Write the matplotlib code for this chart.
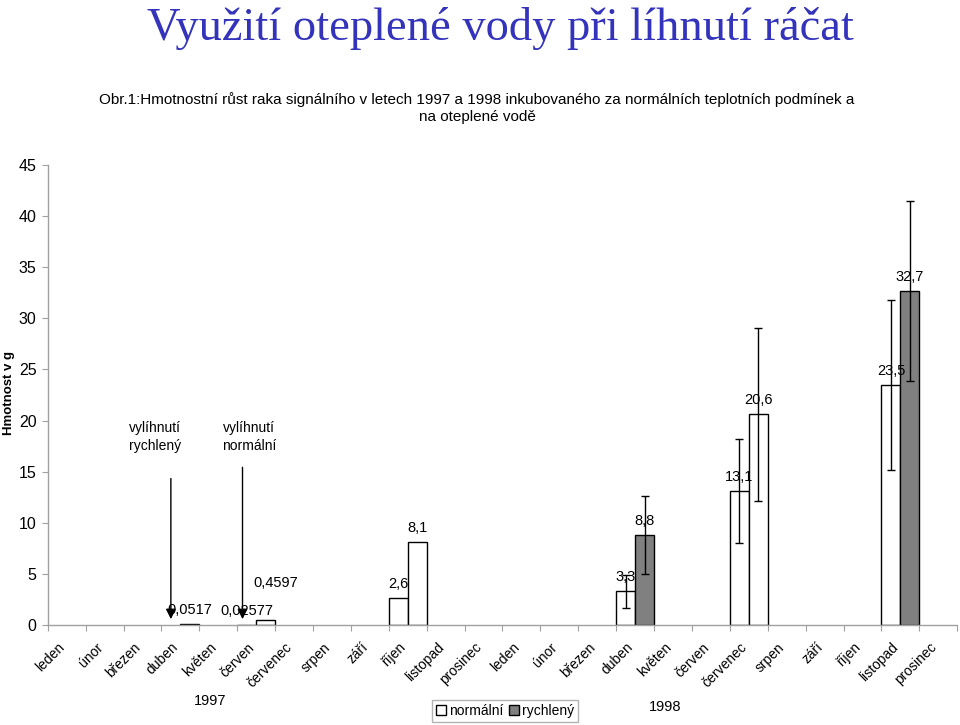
import matplotlib
matplotlib.use("Agg")
import matplotlib.pyplot as plt
import matplotlib.transforms as mtransforms
from matplotlib.patches import Patch
import numpy as np

months = ["leden", "únor", "březen", "duben", "květen", "červen", "červenec",
          "srpen", "září", "říjen", "listopad", "prosinec"]
categories = months + months
years = ["1997", "1998"]

# values per category (None = no bar)
normalni = [None, None, None, None, None, 0.02577, None, None, None, 2.6, None, None,
            None, None, None, 3.3, None, None, 13.1, None, None, None, 23.5, None]
rychleny = [None, None, None, 0.0517, None, 0.4597, None, None, None, 8.1, None, None,
            None, None, None, 8.8, None, None, 20.6, None, None, None, 32.7, None]
err_normalni = [None] * 15 + [1.6, None, None, 5.1, None, None, None, 8.3, None]
err_rychleny = [None] * 15 + [3.8, None, None, 8.5, None, None, None, 8.8, None]
label_normalni = [None, None, None, None, None, "0,02577", None, None, None, "2,6", None, None,
                  None, None, None, "3,3", None, None, "13,1", None, None, None, "23,5", None]
label_rychleny = [None, None, None, "0,0517", None, "0,4597", None, None, None, "8,1", None, None,
                  None, None, None, "8,8", None, None, "20,6", None, None, None, "32,7", None]

# fill colours of the right-hand bars (style)
GRAY = "#808080"
right_fill = ["white"] * 24
for i in (3, 15, 22):
    right_fill[i] = GRAY

plt.rcParams["font.family"] = ["Liberation Sans", "DejaVu Sans"]

fig = plt.figure(figsize=(9.6, 7.25), dpi=100)
ax = fig.add_axes([47.7 / 960, 1 - 625 / 725, (957.3 - 47.7) / 960, (625 - 165) / 725])

x = np.arange(len(categories))
w = 0.5
for i in range(len(categories)):
    if normalni[i] is not None:
        ax.bar(x[i] - w / 2, normalni[i], width=w, color="white", edgecolor="black", linewidth=1.0, zorder=2)
        if err_normalni[i] is not None:
            ax.errorbar(x[i] - w / 2, normalni[i], yerr=err_normalni[i], fmt="none",
                        ecolor="black", elinewidth=1.0, capsize=2.6, capthick=1.0, zorder=3)
    if rychleny[i] is not None:
        ax.bar(x[i] + w / 2, rychleny[i], width=w, color=right_fill[i], edgecolor="black", linewidth=1.0, zorder=2)
        if err_rychleny[i] is not None:
            ax.errorbar(x[i] + w / 2, rychleny[i], yerr=err_rychleny[i], fmt="none",
                        ecolor="black", elinewidth=1.0, capsize=2.6, capthick=1.0, zorder=3)

label_offsets = {("r", 5): (10, 37)}
for i in range(len(categories)):
    for key, vals, labs, dx in (("n", normalni, label_normalni, -w / 2), ("r", rychleny, label_rychleny, w / 2)):
        if labs[i] is not None:
            ox, oy = label_offsets.get((key, i), (0, 14))
            ax.annotate(labs[i], (x[i] + dx, vals[i]), xytext=(ox, oy), textcoords="offset pixels",
                        ha="center", va="center", fontsize=10.5, zorder=4)

ax.set_xlim(-0.5, len(categories) - 0.5)
ax.set_ylim(0, 45)
ax.set_yticks(np.arange(0, 46, 5))
ax.tick_params(axis="y", length=4, color="#a0a0a0", labelsize=11.5, pad=4)

ax.set_xticks(np.arange(-0.5, len(categories), 1.0))
ax.set_xticklabels([])
ax.set_xticks(x, minor=True)
ax.set_xticklabels(categories, minor=True, rotation=45, ha="right", va="top",
                   rotation_mode="anchor", fontsize=10)
ax.tick_params(axis="x", which="major", length=4, color="#a0a0a0", direction="out")
ax.tick_params(axis="x", which="minor", length=0, pad=11)
shift = mtransforms.ScaledTranslation(-9 / 100, 0, fig.dpi_scale_trans)
for lab in ax.get_xticklabels(minor=True):
    lab.set_transform(lab.get_transform() + shift)

for s in ("top", "right"):
    ax.spines[s].set_visible(False)
for s in ("left", "bottom"):
    ax.spines[s].set_color("#a0a0a0")
    ax.spines[s].set_linewidth(1.0)

fig.text(9 / 960, 1 - 393 / 725, "Hmotnost v g", rotation=90, ha="center", va="center",
         fontsize=9.5, fontweight="bold")

# annotations with arrows
ax.annotate("", xy=(2.75, 0.3), xytext=(2.75, 14.6),
            arrowprops=dict(arrowstyle="-|>", color="black", lw=1.0, mutation_scale=15))
ax.annotate("", xy=(4.64, 0.3), xytext=(4.64, 15.7),
            arrowprops=dict(arrowstyle="-|>", color="black", lw=1.0, mutation_scale=15))
fig.text(155 / 960, 1 - 437 / 725, "vylíhnutí\nrychlený", ha="center", va="center", fontsize=10, linespacing=1.3)
fig.text(249 / 960, 1 - 437 / 725, "vylíhnutí\nnormální", ha="center", va="center", fontsize=10, linespacing=1.3)

# titles
fig.text(500 / 960, 1 - 29 / 725, "Využití oteplené vody při líhnutí ráčat", ha="center", va="center",
         fontsize=33.5, color="#3333bb", family=["Liberation Serif", "DejaVu Serif"])
fig.text(477 / 960, 1 - 108 / 725,
         "Obr.1:Hmotnostní růst raka signálního v letech 1997 a 1998 inkubovaného za normálních teplotních podmínek a\nna oteplené vodě",
         ha="center", va="center", fontsize=11, linespacing=1.3,
         family=["Liberation Sans", "DejaVu Sans"])

fig.text(210 / 960, 1 - 701 / 725, years[0], ha="center", va="center", fontsize=10.5)
fig.text(665 / 960, 1 - 707 / 725, years[1], ha="center", va="center", fontsize=10.5)

handles = [Patch(facecolor="white", edgecolor="black", linewidth=1.0, label="normální"),
           Patch(facecolor=GRAY, edgecolor="black", linewidth=1.0, label="rychlený")]
leg = fig.legend(handles=handles, loc="center", bbox_to_anchor=(505 / 960, 1 - 711 / 725), ncol=2,
                 frameon=True, fancybox=False, fontsize=10, handlelength=0.7, handleheight=0.7,
                 handletextpad=0.25, columnspacing=0.4, borderpad=0.3, borderaxespad=0)
leg.get_frame().set_edgecolor("#a0a0a0")
leg.get_frame().set_linewidth(1.0)

fig.savefig("out.png", dpi=100)
